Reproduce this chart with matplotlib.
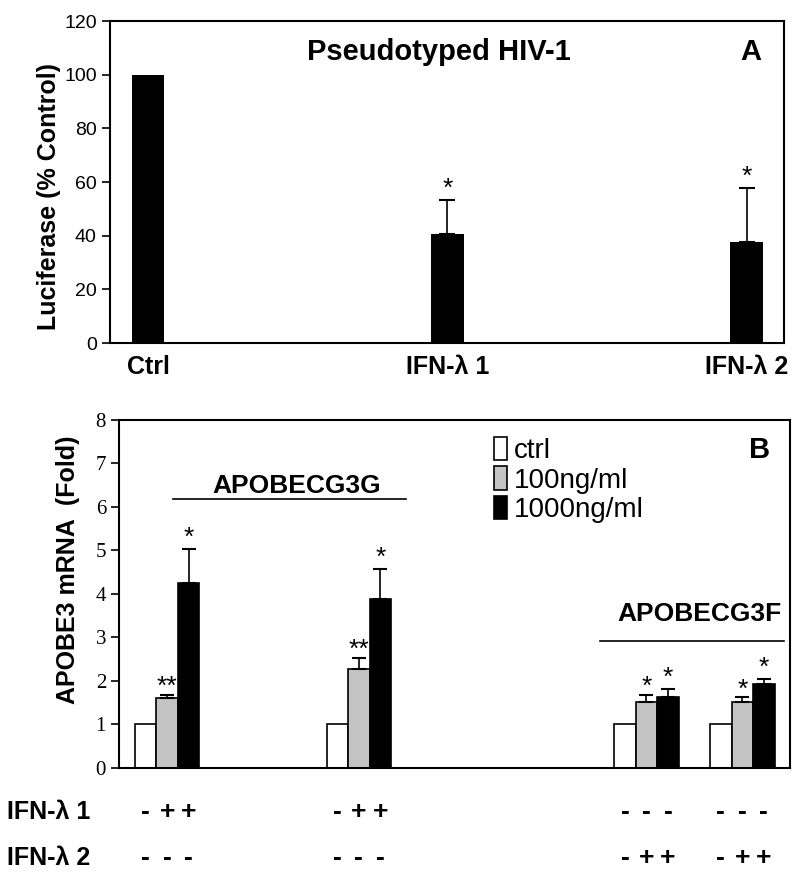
import matplotlib.pyplot as plt
import matplotlib.patches as mpatches
import numpy as np

plt.rcParams['font.family'] = ['Liberation Sans', 'DejaVu Sans']

# panel A data
a_labels = ['Ctrl', 'IFN-λ 1', 'IFN-λ 2']
a_vals = [100, 40.6, 37.6]
a_err = [0, 12.7, 20.3]
a_stars = ['', '*', '*']

# panel B data (slots 0..6 on the category axis, groups sit at 0, 2, 5, 6)
b_slots = [0, 2, 5, 6]
b_ctrl = [1.0, 1.0, 1.0, 1.0]
b_100 = [1.61, 2.28, 1.52, 1.51]
b_100_err = [0.07, 0.25, 0.16, 0.12]
b_1000 = [4.25, 3.88, 1.63, 1.93]
b_1000_err = [0.78, 0.69, 0.18, 0.11]
b_100_stars = ['**', '**', '*', '*']
b_1000_stars = ['*', '*', '*', '*']
row_ifn1 = [['-', '+', '+'], ['-', '+', '+'], ['-', '-', '-'], ['-', '-', '-']]
row_ifn2 = [['-', '-', '-'], ['-', '-', '-'], ['-', '+', '+'], ['-', '+', '+']]
legend_labels = ['ctrl', '100ng/ml', '1000ng/ml']

fig = plt.figure(figsize=(8, 8.8), dpi=100)

# ---------- panel A ----------
axA = fig.add_axes([0.1375, 0.6102, 0.8425, 0.3659])
xa = np.arange(len(a_vals))
axA.bar(xa, a_vals, width=0.11, color='black')
axA.errorbar(xa[1:], a_vals[1:], yerr=[np.zeros(2), a_err[1:]], fmt='none',
             ecolor='black', elinewidth=1.2, capsize=6, capthick=1.5)
for x, v, e, s in zip(xa, a_vals, a_err, a_stars):
    if s:
        axA.text(x, v + e - 0.5, s, ha='center', va='bottom', fontsize=19)
axA.set_xlim(-0.127, 2.124)
axA.set_ylim(0, 120)
axA.set_yticks(range(0, 121, 20))
axA.tick_params(axis='y', labelsize=14, direction='out', length=6, width=1.2)
axA.set_xticks([])
for x, lab in zip(xa, a_labels):
    axA.text(x, -9, lab, ha='center', va='center', fontsize=18, fontweight='bold', clip_on=False)
axA.set_ylabel('Luciferase (% Control)', fontsize=18, fontweight='bold')
axA.yaxis.set_label_coords(-0.073, 0.455)
axA.text(0.488, 0.905, 'Pseudotyped HIV-1', transform=axA.transAxes, ha='center', va='center',
         fontsize=21, fontweight='bold')
axA.text(0.95, 0.905, 'A', transform=axA.transAxes, ha='center', va='center',
         fontsize=21, fontweight='bold')
for sp in axA.spines.values():
    sp.set_linewidth(1.5)

# ---------- panel B ----------
axB = fig.add_axes([0.149, 0.1273, 0.8388, 0.3955])
w = 0.224
xs = np.array(b_slots, dtype=float)
axB.bar(xs - w, b_ctrl, width=w, color='white', edgecolor='black', linewidth=1.2)
axB.bar(xs, b_100, width=w, color='#c4c4c4', edgecolor='black', linewidth=1.2)
axB.bar(xs + w, b_1000, width=w, color='black', edgecolor='black', linewidth=1.2)
axB.errorbar(xs, b_100, yerr=[np.zeros(4), b_100_err], fmt='none', ecolor='black',
             elinewidth=1.2, capsize=5, capthick=1.5)
axB.errorbar(xs + w, b_1000, yerr=[np.zeros(4), b_1000_err], fmt='none', ecolor='black',
             elinewidth=1.2, capsize=5, capthick=1.5)
for x, v, e, s in zip(xs, b_100, b_100_err, b_100_stars):
    axB.text(x, v + e - 0.1, s, ha='center', va='bottom', fontsize=19)
for x, v, e, s in zip(xs + w, b_1000, b_1000_err, b_1000_stars):
    axB.text(x, v + e - 0.02, s, ha='center', va='bottom', fontsize=19)

axB.set_xlim(-0.5, 6.5)
axB.set_ylim(0, 8)
axB.set_xticks([])
axB.set_yticks(range(0, 9))
axB.tick_params(axis='y', labelsize=15, direction='out', length=6, width=1.2)
for t in axB.get_yticklabels():
    t.set_fontfamily('Liberation Serif')
axB.set_ylabel('APOBE3 mRNA  (Fold)', fontsize=18, fontweight='bold')
axB.yaxis.set_label_coords(-0.058, 0.569)
for sp in axB.spines.values():
    sp.set_linewidth(1.5)

# gene brackets
axB.plot([0.06, 2.49], [6.18, 6.18], color='black', lw=1.2)
axB.text(1.35, 6.48, 'APOBECG3G', ha='center', va='center', fontsize=19, fontweight='bold')
axB.plot([4.52, 6.43], [2.92, 2.92], color='black', lw=1.2)
axB.text(5.55, 3.55, 'APOBECG3F', ha='center', va='center', fontsize=19, fontweight='bold')
axB.text(0.955, 0.915, 'B', transform=axB.transAxes, ha='center', va='center',
         fontsize=21, fontweight='bold')

handles = [mpatches.Patch(facecolor=c, edgecolor='black', linewidth=1.2)
           for c in ['white', '#c4c4c4', 'black']]
axB.legend(handles, legend_labels, loc='upper left', bbox_to_anchor=(0.533, 1.0),
           frameon=False, fontsize=20, handlelength=0.5, handleheight=0.9,
           handletextpad=0.25, labelspacing=0.1, borderaxespad=0.2)

# treatment table under panel B
for x, signs1, signs2 in zip(xs, row_ifn1, row_ifn2):
    for k in range(3):
        axB.text(x + (k - 1) * w, -1.01, signs1[k], ha='center', va='center',
                 fontsize=19, fontweight='bold', clip_on=False)
        axB.text(x + (k - 1) * w, -2.07, signs2[k], ha='center', va='center',
                 fontsize=19, fontweight='bold', clip_on=False)
fig.text(0.009, 1 - 812 / 880, 'IFN-λ 1', ha='left', va='center', fontsize=18, fontweight='bold')
fig.text(0.009, 1 - 858 / 880, 'IFN-λ 2', ha='left', va='center', fontsize=18, fontweight='bold')

fig.savefig('out.png', dpi=100)
